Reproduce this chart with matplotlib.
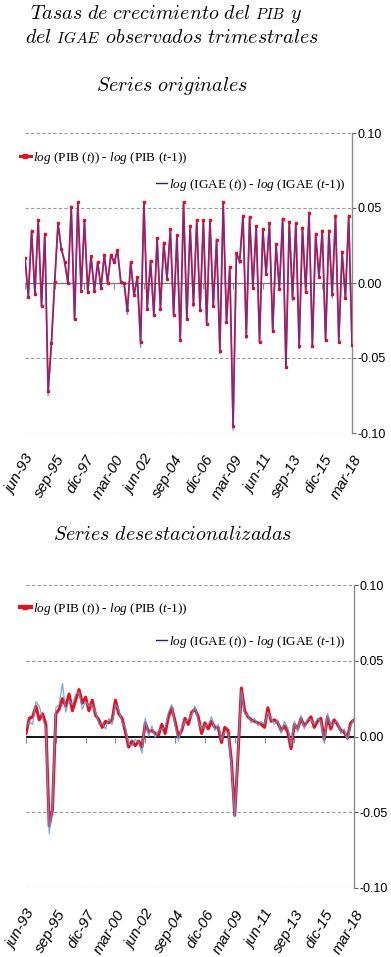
import numpy as np
import pandas as pd
import matplotlib
matplotlib.use("Agg")
import matplotlib.pyplot as plt
from matplotlib.lines import Line2D
from matplotlib.text import Annotation

plt.rcParams["mathtext.fontset"] = "custom"
plt.rcParams["mathtext.rm"] = "Liberation Serif"
plt.rcParams["mathtext.it"] = "Liberation Serif:italic"
plt.rcParams["axes.unicode_minus"] = False

# ─── datos ───
quarters = pd.period_range("1993Q2", "2018Q1", freq="Q")
tick_labels = ["jun-93", "sep-95", "dic-97", "mar-00", "jun-02", "sep-04",
               "dic-06", "mar-09", "jun-11", "sep-13", "dic-15", "mar-18"]

pib_orig = [
    0.017, -0.009, 0.035, -0.007, 0.042, -0.015, 0.033, -0.072, -0.040, 0.001,
    0.040, 0.023, 0.014, 0.000, 0.051, -0.024, 0.054, -0.005, 0.042, -0.006,
    0.018, -0.005, 0.014, -0.003, 0.019, 0.000, 0.019, 0.014, 0.022, 0.001,
    0.000, -0.018, 0.014, -0.008, 0.004, -0.039, 0.054, -0.017, 0.015, -0.021,
    0.030, -0.017, 0.027, 0.003, 0.036, -0.021, 0.032, -0.038, 0.054, -0.024,
    0.038, -0.014, 0.042, -0.018, 0.042, -0.027, 0.042, -0.015, 0.029, -0.045,
    0.054, -0.026, 0.011, -0.095, 0.020, 0.015, 0.045, -0.035, 0.044, -0.003,
    0.038, -0.039, 0.036, 0.006, 0.040, -0.032, 0.026, -0.004, 0.043, -0.056,
    0.041, -0.010, 0.040, -0.042, 0.037, -0.006, 0.047, -0.042, 0.033, 0.004,
    0.035, -0.038, 0.035, -0.007, 0.045, -0.039, 0.021, -0.010, 0.045, -0.041,
]
igae_orig = [
    0.016, -0.010, 0.034, -0.008, 0.041, -0.016, 0.032, -0.075, -0.041, 0.002,
    0.039, 0.022, 0.015, -0.001, 0.050, -0.025, 0.053, -0.006, 0.041, -0.007,
    0.017, -0.006, 0.013, -0.004, 0.018, 0.001, 0.018, 0.013, 0.021, 0.000,
    -0.001, -0.021, 0.013, -0.009, 0.003, -0.043, 0.053, -0.018, 0.014, -0.022,
    0.029, -0.018, 0.026, 0.002, 0.035, -0.022, 0.031, -0.039, 0.053, -0.025,
    0.037, -0.016, 0.041, -0.019, 0.041, -0.028, 0.041, -0.016, 0.028, -0.047,
    0.053, -0.027, 0.010, -0.098, 0.019, 0.013, 0.044, -0.037, 0.043, -0.004,
    0.037, -0.040, 0.035, 0.005, 0.039, -0.033, 0.025, -0.005, 0.042, -0.057,
    0.040, -0.012, 0.039, -0.044, 0.036, -0.004, 0.046, -0.043, 0.032, 0.003,
    0.034, -0.039, 0.034, -0.010, 0.044, -0.040, 0.020, -0.011, 0.044, -0.042,
]
pib_sa = [
    0.002, 0.012, 0.013, 0.020, 0.011, 0.015, 0.008, -0.059, -0.048, 0.015,
    0.018, 0.025, 0.020, 0.028, 0.017, 0.024, 0.031, 0.022, 0.026, 0.017,
    0.024, 0.014, 0.011, 0.006, 0.010, 0.009, 0.011, 0.024, 0.015, 0.012,
    0.003, -0.007, -0.003, -0.006, -0.003, -0.007, 0.009, 0.003, 0.004, 0.002,
    0.001, 0.008, 0.002, 0.013, 0.019, 0.010, 0.000, 0.004, 0.012, 0.008,
    0.016, 0.018, 0.013, 0.002, 0.009, 0.005, 0.010, 0.006, 0.006, -0.004,
    0.006, 0.004, -0.016, -0.052, -0.012, 0.032, 0.017, 0.013, 0.011, 0.010,
    0.009, 0.008, 0.006, 0.019, 0.010, 0.011, 0.009, 0.004, 0.007, 0.003,
    -0.008, 0.008, 0.005, 0.012, 0.007, 0.010, 0.013, 0.006, 0.010, 0.012,
    -0.002, 0.013, 0.005, 0.011, 0.008, 0.004, 0.003, -0.001, 0.009, 0.011,
]
igae_sa = [
    0.006, 0.010, 0.008, 0.023, 0.020, 0.012, 0.005, -0.064, -0.046, 0.019,
    0.021, 0.035, 0.016, 0.024, 0.021, 0.028, 0.029, 0.018, 0.023, 0.020,
    0.021, 0.016, 0.008, 0.009, 0.005, 0.012, 0.008, 0.021, 0.018, 0.009,
    0.006, -0.005, -0.006, -0.002, -0.004, -0.011, 0.012, 0.000, 0.007, -0.001,
    0.004, 0.005, 0.006, 0.016, 0.021, 0.007, -0.003, 0.006, 0.010, 0.011,
    0.014, 0.020, 0.010, 0.005, 0.007, 0.008, 0.013, 0.004, 0.008, -0.002,
    0.003, 0.002, -0.019, -0.053, -0.010, 0.030, 0.015, 0.014, 0.009, 0.012,
    0.007, 0.010, 0.008, 0.016, 0.012, 0.008, 0.011, 0.002, 0.010, 0.006,
    -0.006, 0.010, 0.003, 0.014, 0.005, 0.012, 0.011, 0.008, 0.012, 0.010,
    -0.004, 0.015, 0.007, 0.009, 0.010, 0.002, 0.005, -0.002, 0.007, 0.012,
]

W, H = 391, 957
RED = "#e8101e"
NAVY = "#1f1f80"
TSIZE = 14.4
SC = 11.0  # versalitas
LEG_PIB = r"$\it{log}$ (PIB ($\it{t}$)) - $\it{log}$ (PIB ($\it{t}$-1))"
LEG_IGAE = r"$\it{log}$ (IGAE ($\it{t}$)) - $\it{log}$ (IGAE ($\it{t}$-1))"


def px_axes(fig, left, top, right, bottom):
    return fig.add_axes([left / W, 1 - bottom / H, (right - left) / W, (bottom - top) / H])


def title_line(fig, pieces, x_px, base_px):
    y = 1 - base_px / H
    prev = None
    for s, size in pieces:
        kw = dict(fontsize=size, va="baseline", ha="left", math_fontfamily="cm")
        if prev is None:
            prev = fig.text(x_px / W, y, s, **kw)
        else:
            ann = Annotation(s, xy=(1, y), xycoords=(prev, "figure fraction"), **kw)
            fig.add_artist(ann)
            prev = ann


def style_axes(ax, zero_color, zero_lw):
    x = np.arange(len(quarters))
    ax.set_xlim(x[0], x[-1])
    ax.set_ylim(-0.10, 0.10)
    for s in ["top", "left", "bottom"]:
        ax.spines[s].set_visible(False)
    ax.spines["right"].set_color("#8c8c8c")
    ax.spines["right"].set_linewidth(1.0)
    yt = [-0.10, -0.05, 0.0, 0.05, 0.10]
    for v in yt:
        if v == 0:
            ax.axhline(v, color=zero_color, lw=zero_lw, zorder=1)
        else:
            ax.axhline(v, color="#9a9a9a", lw=0.8, ls=(0, (3, 2)), zorder=0)
    ax.yaxis.tick_right()
    ax.set_yticks(yt)
    ax.set_yticklabels([f"{v:.2f}" for v in yt], family="Liberation Sans", fontsize=9)
    ax.tick_params(axis="y", length=3, width=0.8, color="#666666", pad=1)
    ticks = x[::9]
    ax.set_xticks(ticks)
    ax.set_xticklabels(tick_labels, rotation=60, ha="right", va="top",
                       rotation_mode="anchor", family="Liberation Sans",
                       style="italic", fontsize=11)
    ax.tick_params(axis="x", length=0, pad=14)
    ax.vlines(ticks, -0.004, 0, color="#8c8c8c", lw=0.8, zorder=1)


fig = plt.figure(figsize=(W / 100, H / 100), dpi=100)

title_line(fig, [(r"$Tasas\ de\ crecimiento\ del$", TSIZE), (r"$\ PIB$", SC),
                 (r"$\ y$", TSIZE)], 30, 19)
title_line(fig, [(r"$del$", TSIZE), (r"$\ IGAE$", SC),
                 (r"$\ observados\ trimestrales$", TSIZE)], 25, 43)
fig.text(172 / W, 1 - 91 / H, r"$Series\ originales$", fontsize=TSIZE, ha="center",
         va="baseline", math_fontfamily="cm")
fig.text(173 / W, 1 - 540 / H, r"$Series\ desestacionalizadas$", fontsize=TSIZE,
         ha="center", va="baseline", math_fontfamily="cm")

x = np.arange(len(quarters))

# ─── Series originales ───
ax1 = px_axes(fig, 25, 133, 352, 433)
style_axes(ax1, "#7f7f7f", 1.0)
ax1.plot(x, pib_orig, color=RED, lw=1.3, marker="s", ms=2.0, zorder=3)
ax1.plot(x, igae_orig, color="#3a3ac0", lw=1.0, alpha=0.6, zorder=4)

# ─── Series desestacionalizadas ───
ax2 = px_axes(fig, 26, 585, 354, 888)
style_axes(ax2, "black", 1.3)
ax2.plot(x, pib_sa, color=RED, lw=2.2, zorder=3)
ax2.plot(x, igae_sa, color="#5b9bd5", lw=0.9, alpha=0.85, zorder=4)

# ─── leyendas ───
h_pib_o = Line2D([], [], color=RED, lw=2.2, marker="s", ms=3)
h_pib_s = Line2D([], [], color=RED, lw=3.0, marker="s", ms=3)
h_igae = Line2D([], [], color=NAVY, lw=1.0)
leg_kw = dict(frameon=False, handlelength=0.8, handletextpad=0.2, borderpad=0,
              borderaxespad=0, prop={"family": "Liberation Serif", "size": 9.5},
              loc="center left", bbox_transform=fig.transFigure)

for ax, hp, y1, y2 in [(ax1, h_pib_o, 158, 185), (ax2, h_pib_s, 609, 642)]:
    l1 = ax.legend([hp], [LEG_PIB], bbox_to_anchor=(20 / W, 1 - y1 / H), **leg_kw)
    ax.add_artist(l1)
    ax.legend([h_igae], [LEG_IGAE], bbox_to_anchor=(156 / W, 1 - y2 / H), **leg_kw)

fig.savefig("out.png", dpi=100)
